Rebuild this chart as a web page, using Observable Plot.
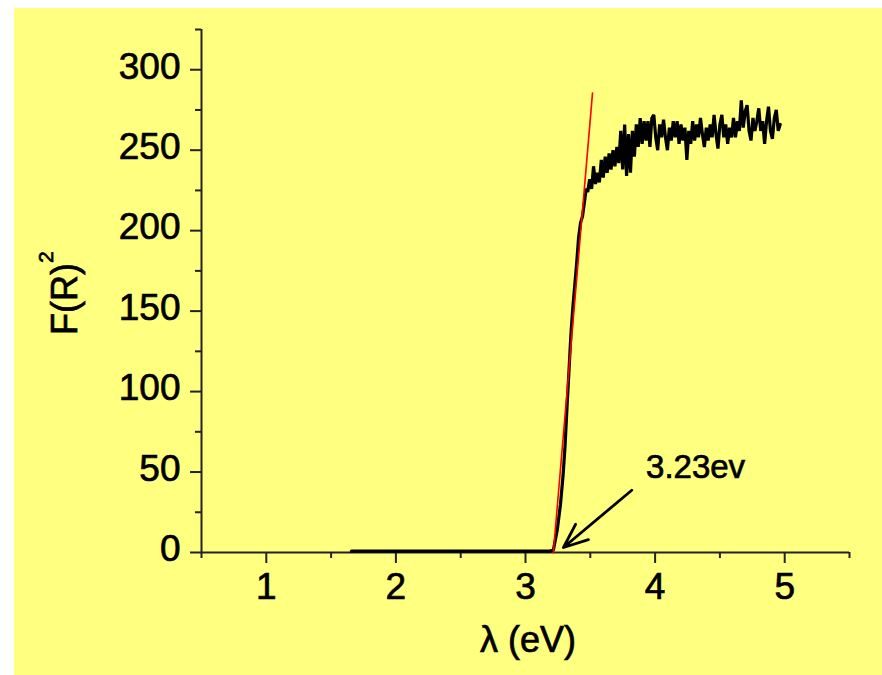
<!DOCTYPE html>
<html>
<head>
<meta charset="utf-8">
<script src="https://cdn.jsdelivr.net/npm/d3@7"></script>
<script src="https://cdn.jsdelivr.net/npm/@observablehq/plot@0.6"></script>
<style>
  html, body { margin: 0; padding: 0; background: #ffffff; }
  #wrap { position: relative; width: 882px; height: 675px; overflow: hidden; }
  #bg { position: absolute; left: 14px; top: 8px; right: 0; bottom: 0; background: #FFFF80; }
  #chart { position: absolute; left: 0; top: 0; }
  svg { display: block; }
  svg text { stroke: #000; stroke-width: 0.7px; paint-order: stroke; }
</style>
</head>
<body>
<div id="wrap"><div id="bg"></div><div id="chart"></div></div>
<script>
// ---- data ----
const xTicks = [1, 2, 3, 4, 5];
const xMinorTicks = [0.5, 1.5, 2.5, 3.5, 4.5, 5.5];
const yTicks = [0, 50, 100, 150, 200, 250, 300];
const yMinorTicks = [25, 75, 125, 175, 225, 275, 325];

// flat part (below band gap)
const baselinePart = [[1.657, 0.8], [2.5, 0.8], [3.18, 0.8]];
// steep absorption edge
const edgePart = [
  [3.215, 1.5], [3.245, 14], [3.27, 30], [3.29, 48], [3.305, 66], [3.32, 90],
  [3.335, 112], [3.35, 135], [3.365, 152], [3.38, 166], [3.395, 180], [3.41, 196],
  [3.425, 205], [3.44, 209], [3.455, 218], [3.468, 226]
];
// noisy plateau
const plateauPart = [
  [3.480, 224], [3.495, 232], [3.510, 226], [3.525, 240], [3.540, 229], [3.555, 236],
  [3.570, 230], [3.585, 244], [3.600, 233], [3.615, 246], [3.630, 236], [3.645, 248],
  [3.660, 238], [3.675, 250], [3.690, 240], [3.705, 252], [3.720, 242], [3.735, 262],
  [3.750, 238], [3.765, 266], [3.780, 234], [3.795, 260], [3.810, 236], [3.825, 262],
  [3.840, 246], [3.855, 266], [3.870, 252], [3.885, 270], [3.900, 254], [3.915, 268],
  [3.930, 256], [3.945, 268], [3.960, 252], [3.975, 270], [3.990, 272], [4.005, 258],
  [4.020, 250], [4.035, 266], [4.050, 258], [4.065, 269], [4.080, 258], [4.095, 250],
  [4.110, 264], [4.125, 256], [4.140, 268], [4.155, 258], [4.170, 268], [4.185, 254],
  [4.200, 266], [4.215, 256], [4.230, 264], [4.245, 244], [4.260, 262], [4.275, 254],
  [4.290, 268], [4.305, 256], [4.320, 266], [4.335, 258], [4.350, 270], [4.365, 260],
  [4.380, 252], [4.395, 264], [4.410, 256], [4.425, 266], [4.440, 258], [4.455, 272],
  [4.470, 260], [4.485, 251], [4.500, 266], [4.515, 272], [4.530, 258], [4.545, 266],
  [4.560, 254], [4.575, 264], [4.590, 258], [4.605, 270], [4.620, 258], [4.635, 268],
  [4.650, 262], [4.665, 281], [4.680, 264], [4.695, 274], [4.710, 278], [4.725, 262],
  [4.740, 256], [4.755, 270], [4.770, 262], [4.785, 268], [4.800, 276], [4.815, 262],
  [4.830, 268], [4.845, 254], [4.860, 268], [4.875, 277], [4.890, 262], [4.905, 257],
  [4.920, 270], [4.935, 275], [4.950, 262], [4.965, 266]
];
// red linear fit (tangent) line
const fitLine = [[3.215, 0], [3.517, 285.5]];
// annotation
const annotationText = ["3.23ev"];
const annotationPos = [[3.93, 53]];
const arrowFrom = [3.82, 38.7];
const arrowTo = [3.293, 3.1];

const curve = [...baselinePart, ...edgePart, ...plateauPart];

const FONT = "'Liberation Sans', Arial, Helvetica, sans-serif";
const W = 882, H = 675, ML = 201, MR = 33, MT = 29, MB = 123;

const svg = Plot.plot({
  width: W, height: H,
  marginLeft: ML, marginRight: MR, marginTop: MT, marginBottom: MB,
  style: { background: "transparent", fontFamily: FONT, color: "#000", overflow: "visible" },
  x: { domain: [0.5, 5.5], label: null },
  y: { domain: [0, 325], label: null },
  marks: [
    // minor ticks
    Plot.axisX({ ticks: xMinorTicks, tickSize: 6, tickFormat: () => "", strokeWidth: 2, stroke: "#222", label: null }),
    Plot.axisY({ ticks: yMinorTicks, tickSize: 6, tickFormat: () => "", strokeWidth: 2, stroke: "#222", label: null }),
    // major ticks + labels
    Plot.axisX({ ticks: xTicks, tickSize: 11, tickPadding: 9, fontSize: 37, tickFormat: d => String(d), strokeWidth: 2, stroke: "#222", fill: "#000", label: null }),
    Plot.axisY({ ticks: yTicks, tickSize: 11, tickFormat: () => "", strokeWidth: 2, stroke: "#222", label: null }),
    Plot.axisY({ ticks: yTicks, tickSize: 0, tickPadding: 21, fontSize: 37, tickFormat: d => String(d), dy: -3, fill: "#000", label: null }),
    // axis lines
    Plot.ruleY([0], { stroke: "#222", strokeWidth: 2 }),
    Plot.ruleX([0.5], { stroke: "#222", strokeWidth: 2 }),
    // data curve
    Plot.line(curve, { x: d => d[0], y: d => d[1], stroke: "#000", strokeWidth: 3.2, strokeLinejoin: "miter" }),
    // red fit line
    Plot.line(fitLine, { x: d => d[0], y: d => d[1], stroke: "#ff0000", strokeWidth: 1.6 }),
    // arrow + annotation
    Plot.arrow([{ x1: arrowFrom[0], y1: arrowFrom[1], x2: arrowTo[0], y2: arrowTo[1] }],
      { x1: "x1", y1: "y1", x2: "x2", y2: "y2", stroke: "#000", strokeWidth: 2.8, headLength: 14, headAngle: 45 }),
    Plot.text(annotationText, { x: (d, i) => annotationPos[i][0], y: (d, i) => annotationPos[i][1], text: d => d, textAnchor: "start", fontSize: 33, fill: "#000" })
  ]
});

const root = d3.select(svg);
// x-axis title
root.append("text")
  .attr("x", (ML + W - MR) / 2 + 3)
  .attr("y", 652)
  .attr("text-anchor", "middle")
  .attr("font-family", FONT)
  .attr("font-size", 36)
  .attr("fill", "#000")
  .text("λ (eV)");
// y-axis title with superscript
const yl = root.append("text")
  .attr("transform", "translate(77,335) rotate(-90)")
  .attr("text-anchor", "start")
  .attr("font-family", FONT)
  .attr("font-size", 36)
  .attr("fill", "#000");
yl.append("tspan").text("F(R)");
yl.append("tspan").attr("dy", -24).attr("font-size", 21).text("2");

document.getElementById("chart").appendChild(svg);
</script>
</body>
</html>
